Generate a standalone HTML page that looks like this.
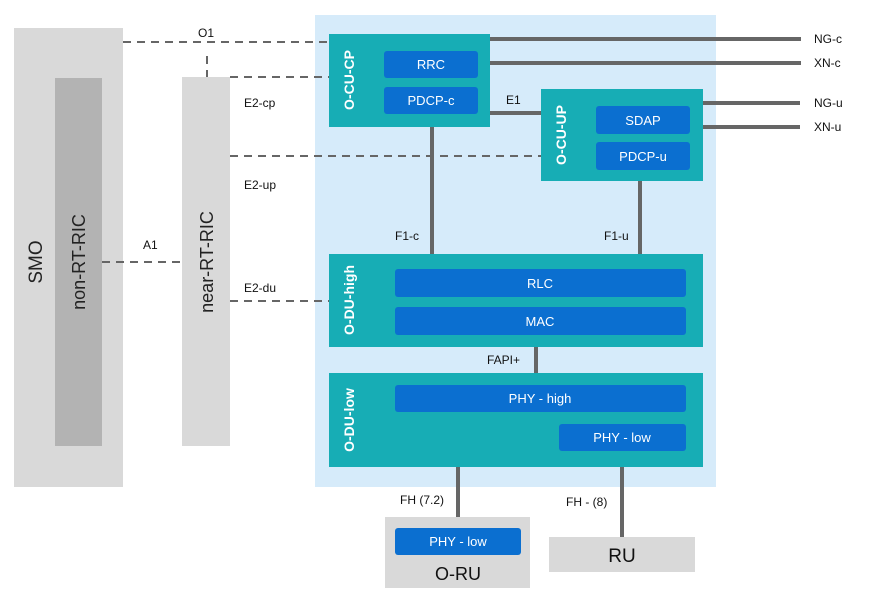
<!DOCTYPE html>
<html><head><meta charset="utf-8"><style>
html,body{margin:0;padding:0;background:#fff;}
svg{display:block;font-family:"Liberation Sans",Arial,sans-serif;}
</style></head><body>
<svg width="873" height="609" viewBox="0 0 873 609" xmlns="http://www.w3.org/2000/svg">
<rect x="0" y="0" width="873" height="609" fill="#fff"/>
<!-- SMO etc -->
<rect x="14" y="28" width="109" height="459" fill="#d9d9d9"/>
<rect x="55" y="78" width="47" height="368" fill="#b3b3b3"/>
<rect x="182" y="77" width="48" height="369" fill="#d9d9d9"/>
<text transform="translate(42,262) rotate(-90)" text-anchor="middle" font-size="19" fill="#222">SMO</text>
<text transform="translate(85,262) rotate(-90)" text-anchor="middle" font-size="18" fill="#222">non-RT-RIC</text>
<text transform="translate(213,262) rotate(-90)" text-anchor="middle" font-size="18" fill="#222">near-RT-RIC</text>
<!-- light blue -->
<rect x="315" y="15" width="401" height="472" fill="#d6ebfa"/>
<!-- dashed -->
<g stroke="#666" stroke-width="2" stroke-dasharray="8,6" fill="none">
<line x1="123" y1="42" x2="329" y2="42"/>
<line x1="207" y1="56" x2="207" y2="77"/>
<line x1="230" y1="77" x2="329" y2="77"/>
<line x1="230" y1="156" x2="541" y2="156"/>
<line x1="102" y1="262" x2="182" y2="262"/>
<line x1="230" y1="301" x2="329" y2="301"/>
</g>
<!-- solid -->
<g stroke="#666" stroke-width="4" fill="none">
<line x1="490" y1="39" x2="801" y2="39"/>
<line x1="490" y1="63" x2="801" y2="63"/>
<line x1="703" y1="103" x2="800" y2="103"/>
<line x1="703" y1="127" x2="800" y2="127"/>
<line x1="490" y1="113" x2="541" y2="113"/>
<line x1="432" y1="127" x2="432" y2="254"/>
<line x1="640" y1="181" x2="640" y2="254"/>
<line x1="536" y1="347" x2="536" y2="373"/>
<line x1="458" y1="412" x2="458" y2="517"/>
<line x1="622" y1="451" x2="622" y2="537"/>
</g>
<!-- teal boxes -->
<g fill="#17adb5">
<rect x="329" y="34" width="161" height="93"/>
<rect x="541" y="89" width="162" height="92"/>
<rect x="329" y="254" width="374" height="93"/>
<rect x="329" y="373" width="374" height="94"/>
</g>
<g fill="#0b6fd0">
<rect x="384" y="51" width="94" height="27" rx="3"/>
<rect x="384" y="87" width="94" height="27" rx="3"/>
<rect x="596" y="106" width="94" height="28" rx="3"/>
<rect x="596" y="142" width="94" height="28" rx="3"/>
<rect x="395" y="269" width="291" height="28" rx="3"/>
<rect x="395" y="307" width="291" height="28" rx="3"/>
<rect x="395" y="385" width="291" height="27" rx="3"/>
<rect x="559" y="424" width="127" height="27" rx="3"/>
</g>
<g fill="#fff" font-weight="bold" font-size="14" text-anchor="middle">
<text transform="translate(354,80) rotate(-90)">O-CU-CP</text>
<text transform="translate(566,135) rotate(-90)">O-CU-UP</text>
<text transform="translate(354,300) rotate(-90)">O-DU-high</text>
<text transform="translate(354,420) rotate(-90)">O-DU-low</text>
</g>
<g fill="#fff" font-size="13" text-anchor="middle">
<text x="431" y="69">RRC</text>
<text x="431" y="105">PDCP-c</text>
<text x="643" y="125">SDAP</text>
<text x="643" y="161">PDCP-u</text>
<text x="540" y="288">RLC</text>
<text x="540" y="326">MAC</text>
<text x="540" y="403">PHY - high</text>
<text x="622" y="442">PHY - low</text>
</g>
<!-- RU boxes -->
<rect x="385" y="517" width="145" height="71" fill="#d9d9d9"/>
<rect x="395" y="528" width="126" height="27" rx="3" fill="#0b6fd0"/>
<text x="458" y="546" fill="#fff" font-size="13" text-anchor="middle">PHY - low</text>
<text x="458" y="580" fill="#111" font-size="18" text-anchor="middle">O-RU</text>
<rect x="549" y="537" width="146" height="35" fill="#d9d9d9"/>
<text x="622" y="562" fill="#111" font-size="19" text-anchor="middle">RU</text>
<!-- labels -->
<g fill="#111" font-size="12">
<text x="198" y="37">O1</text>
<text x="244" y="107">E2-cp</text>
<text x="244" y="189">E2-up</text>
<text x="143" y="249">A1</text>
<text x="244" y="292">E2-du</text>
<text x="506" y="104">E1</text>
<text x="395" y="240">F1-c</text>
<text x="604" y="240">F1-u</text>
<text x="487" y="364">FAPI+</text>
<text x="400" y="504">FH (7.2)</text>
<text x="566" y="506">FH - (8)</text>
<text x="814" y="43">NG-c</text>
<text x="814" y="67">XN-c</text>
<text x="814" y="107">NG-u</text>
<text x="814" y="131">XN-u</text>
</g>
</svg>
</body></html>
